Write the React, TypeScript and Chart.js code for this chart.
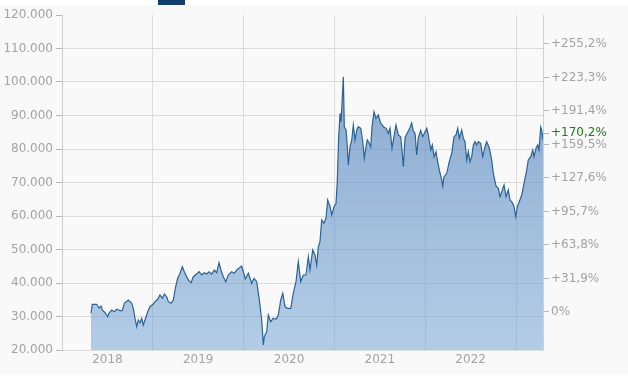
import React, { useEffect, useRef } from 'react';
import { Chart, registerables } from 'chart.js';
Chart.register(...registerables);

// Time positions in fractional years
const years = [
  2018.319, 2018.334, 2018.382, 2018.407, 2018.430, 2018.444, 2018.474, 2018.503, 2018.518, 2018.547,
  2018.576, 2018.602, 2018.639, 2018.664, 2018.686, 2018.730, 2018.768, 2018.785, 2018.804, 2018.823,
  2018.840, 2018.859, 2018.878, 2018.895, 2018.914, 2018.944, 2018.969, 2019.006, 2019.024, 2019.054,
  2019.079, 2019.105, 2019.127, 2019.153, 2019.171, 2019.200, 2019.226, 2019.252, 2019.274, 2019.300,
  2019.325, 2019.347, 2019.373, 2019.391, 2019.421, 2019.446, 2019.483, 2019.509, 2019.539, 2019.567,
  2019.594, 2019.619, 2019.649, 2019.677, 2019.704, 2019.729, 2019.751, 2019.776, 2019.803, 2019.831,
  2019.869, 2019.898, 2019.924, 2019.949, 2019.979, 2019.997, 2020.019, 2020.052, 2020.089, 2020.115,
  2020.144, 2020.173, 2020.199, 2020.217, 2020.228, 2020.254, 2020.272, 2020.298, 2020.327, 2020.357,
  2020.382, 2020.409, 2020.431, 2020.456, 2020.481, 2020.519, 2020.547, 2020.577, 2020.602, 2020.629,
  2020.657, 2020.687, 2020.713, 2020.731, 2020.761, 2020.786, 2020.805, 2020.823, 2020.841, 2020.860,
  2020.885, 2020.907, 2020.926, 2020.952, 2020.970, 2020.996, 2021.018, 2021.032, 2021.047, 2021.062,
  2021.073, 2021.084, 2021.098, 2021.109, 2021.128, 2021.142, 2021.153, 2021.172, 2021.191, 2021.208,
  2021.227, 2021.246, 2021.263, 2021.290, 2021.312, 2021.329, 2021.348, 2021.362, 2021.384, 2021.400,
  2021.414, 2021.436, 2021.458, 2021.483, 2021.510, 2021.539, 2021.568, 2021.594, 2021.612, 2021.634,
  2021.656, 2021.678, 2021.704, 2021.730, 2021.741, 2021.759, 2021.778, 2021.803, 2021.833, 2021.851,
  2021.869, 2021.888, 2021.906, 2021.924, 2021.950, 2021.972, 2021.998, 2022.017, 2022.034, 2022.061,
  2022.078, 2022.097, 2022.119, 2022.133, 2022.155, 2022.182, 2022.193, 2022.207, 2022.237, 2022.265,
  2022.292, 2022.317, 2022.339, 2022.358, 2022.376, 2022.402, 2022.420, 2022.438, 2022.457, 2022.475,
  2022.493, 2022.512, 2022.530, 2022.548, 2022.567, 2022.585, 2022.611, 2022.633, 2022.659, 2022.677,
  2022.706, 2022.732, 2022.750, 2022.780, 2022.805, 2022.824, 2022.843, 2022.868, 2022.890, 2022.915,
  2022.934, 2022.964, 2022.978, 2022.997, 2023.014, 2023.036, 2023.063, 2023.088, 2023.118, 2023.135,
  2023.162, 2023.184, 2023.198, 2023.220, 2023.239, 2023.253, 2023.272, 2023.283, 2023.290, 2023.297,
];

const prices = [
  30960, 33640, 33640, 32540, 33130, 31940, 31130, 29940, 31040, 31940,
  31430, 32150, 31730, 31730, 33940, 34930, 33940, 32450, 29460, 26960,
  28960, 28150, 29460, 27460, 28960, 31430, 32930, 33730, 34420, 35130,
  36420, 35430, 36720, 35910, 34420, 33940, 34930, 38900, 41400, 42900,
  44870, 43370, 41880, 40900, 40090, 41880, 42690, 43370, 42390, 43070,
  42690, 43370, 42690, 43880, 43070, 46060, 43880, 41880, 40390, 42390,
  43370, 42900, 43880, 44390, 45070, 43280, 41190, 42900, 39910, 41400,
  40390, 34930, 28960, 21490, 23970, 25460, 30450, 28450, 29460, 29160,
  30450, 34930, 36920, 32930, 32450, 32450, 36920, 40390, 46360, 40390,
  42390, 42390, 47850, 43880, 49850, 48360, 45370, 50830, 52330, 58800,
  57820, 59310, 64780, 62780, 60300, 62780, 63790, 70750, 83670, 90660,
  88150, 93640, 101580, 86660, 85670, 80690, 75220, 80690, 82690, 87160,
  82690, 85670, 86660, 86180, 82180, 77220, 80690, 82690, 81700, 80690,
  86660, 91130, 89160, 90150, 87670, 86660, 86180, 84690, 86180, 80210,
  83670, 87160, 84180, 83670, 80690, 74720, 83430, 84770, 86420, 87760,
  85370, 84630, 78210, 83430, 85520, 83670, 85160, 86180, 84180, 79700,
  81190, 77700, 79190, 76720, 73730, 70750, 68950, 71730, 72750, 76210,
  78720, 83670, 84180, 86180, 83190, 85670, 83190, 82180, 76720, 79190,
  76210, 77700, 81190, 82180, 81190, 82180, 81700, 77700, 80690, 82180,
  80210, 76720, 72750, 68950, 68270, 65760, 67250, 69250, 65760, 67760,
  64780, 63790, 62780, 59790, 62780, 64270, 66270, 69760, 73730, 76720,
  77700, 79700, 77700, 80210, 81190, 79700, 86570, 85670, 83580, 84700,
];

const xMin = 2018;
const xGridYears = [2018, 2019, 2020, 2021, 2022, 2023];
const xLabelYears = ['2018', '2019', '2020', '2021', '2022'];
const yMin = 20000;
const yMax = 120000;
const yStep = 10000;
const pctTicks = [0, 31.9, 63.8, 95.7, 127.6, 159.5, 191.4, 223.3, 255.2];
const lastChangePct = 170.2;

const FONT = { family: '"DejaVu Sans", Verdana, sans-serif', size: 12 };
const LABEL_COLOR = '#a3a3a3';
const GRID_COLOR = '#dcdcdc';

const fmtPct = (p: number) => (p === 0 ? '0%' : '+' + p.toFixed(1).replace('.', ',') + '%');

export default function App() {
  const ref = useRef<HTMLCanvasElement>(null);

  useEffect(() => {
    const canvas = ref.current!;
    const lastPrice = prices[prices.length - 1];
    const basePrice = lastPrice / (1 + lastChangePct / 100);
    const xMax = years[years.length - 1];
    const xTickValues: number[] = [];
    xGridYears.forEach((y, i) => {
      xTickValues.push(y);
      if (i < xLabelYears.length) xTickValues.push(Number(xLabelYears[i]) + 0.5);
    });

    const lastLabel = {
      id: 'lastLabel',
      afterDraw(chart: any) {
        const { ctx, chartArea } = chart;
        const y = chart.scales.y2.getPixelForValue(lastPrice);
        ctx.save();
        ctx.strokeStyle = '#b0b0b0';
        ctx.lineWidth = 1;
        ctx.beginPath();
        ctx.moveTo(chartArea.right, Math.round(y) + 0.5);
        ctx.lineTo(chartArea.right + 6, Math.round(y) + 0.5);
        ctx.stroke();
        ctx.font = `12px ${FONT.family}`;
        ctx.fillStyle = '#1d7a1d';
        ctx.textAlign = 'left';
        ctx.textBaseline = 'middle';
        ctx.fillText(fmtPct(lastChangePct), chartArea.right + 8, y);
        ctx.restore();
      },
    };

    const chart = new Chart(canvas, {
      type: 'line',
      data: {
        datasets: [
          {
            data: years.map((x, i) => ({ x, y: prices[i] })),
            borderColor: '#2c6396',
            borderWidth: 1.2,
            pointRadius: 0,
            tension: 0,
            fill: 'start',
            backgroundColor: (c: any) => {
              const ca = c.chart.chartArea;
              if (!ca) return 'rgba(100,150,200,0.6)';
              const g = c.chart.ctx.createLinearGradient(0, ca.top, 0, ca.bottom);
              g.addColorStop(0, 'rgba(85,130,185,0.75)');
              g.addColorStop(1, 'rgba(110,160,212,0.5)');
              return g;
            },
          },
        ],
      },
      options: {
        animation: false,
        responsive: false,
        maintainAspectRatio: false,
        layout: { padding: { top: 15, left: 0, right: 0, bottom: 0 } },
        plugins: { legend: { display: false }, tooltip: { enabled: false } },
        scales: {
          x: {
            type: 'linear',
            min: xMin,
            max: xMax,
            afterBuildTicks: (s: any) => {
              s.ticks = xTickValues.map((v) => ({ value: v }));
            },
            afterFit: (s: any) => {
              s.height = 36;
            },
            ticks: {
              autoSkip: false,
              maxRotation: 0,
              color: LABEL_COLOR,
              font: FONT,
              padding: 3,
              callback: (v: any) => (v % 1 !== 0 ? String(Math.floor(v)) : ''),
            },
            grid: {
              drawTicks: false,
              color: (c: any) => (c.tick && c.tick.value % 1 !== 0 ? 'rgba(0,0,0,0)' : GRID_COLOR),
            },
            border: { display: true, color: GRID_COLOR },
          },
          y: {
            position: 'left',
            min: yMin,
            max: yMax,
            afterFit: (s: any) => {
              s.width = 62;
            },
            ticks: {
              stepSize: yStep,
              color: LABEL_COLOR,
              font: FONT,
              padding: 3,
              callback: (v: any) => `${Math.round(v / 1000)}.000`,
            },
            grid: {
              tickLength: 6,
              tickColor: '#b8b8b8',
              color: (c: any) => (c.tick && c.tick.value === yMax ? 'rgba(0,0,0,0)' : GRID_COLOR),
            },
            border: { display: true, color: '#d0d0d0' },
          },
          y2: {
            position: 'right',
            min: yMin,
            max: yMax,
            afterFit: (s: any) => {
              s.width = 85;
            },
            afterBuildTicks: (s: any) => {
              s.ticks = pctTicks.map((p) => ({ value: basePrice * (1 + p / 100) }));
            },
            ticks: {
              autoSkip: false,
              color: LABEL_COLOR,
              font: FONT,
              padding: 2,
              callback: (_v: any, i: number) => fmtPct(pctTicks[i]),
            },
            grid: { drawOnChartArea: false, tickLength: 6, tickColor: '#b8b8b8' },
            border: { display: true, color: '#d0d0d0' },
          },
        },
      },
      plugins: [lastLabel],
    } as any);
    return () => chart.destroy();
  }, []);

  return (
    <div style={{ position: 'fixed', left: 0, top: 0, width: 628, height: 386, background: '#ffffff', overflow: 'hidden' }}>
      <div style={{ position: 'absolute', left: 0, top: 5, width: 628, height: 370, background: '#f9f9f9' }} />
      <div style={{ position: 'absolute', left: 158, top: 0, width: 27, height: 5, background: '#123d6c' }} />
      <canvas ref={ref} width={628} height={386} style={{ position: 'absolute', left: 0, top: 0, width: 628, height: 386 }} />
    </div>
  );
}
